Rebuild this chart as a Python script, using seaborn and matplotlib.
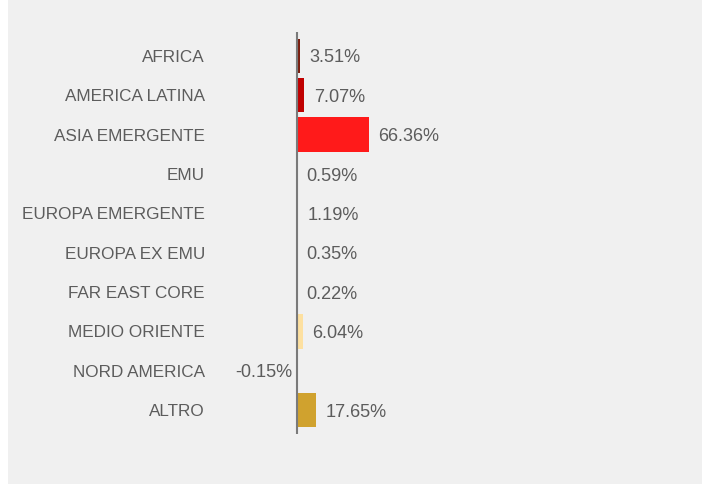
import matplotlib
matplotlib.use("Agg")
import matplotlib.pyplot as plt
from matplotlib.patches import Rectangle
import pandas as pd
import seaborn as sns

# Portfolio weights by geographic area (%)
regions = ["AFRICA", "AMERICA LATINA", "ASIA EMERGENTE", "EMU", "EUROPA EMERGENTE",
           "EUROPA EX EMU", "FAR EAST CORE", "MEDIO ORIENTE", "NORD AMERICA", "ALTRO"]
weights = [3.51, 7.07, 66.36, 0.59, 1.19, 0.35, 0.22, 6.04, -0.15, 17.65]
bar_colors = ["#7b1d0e", "#c00000", "#ff1a1a", "#f26a3a", "#f49a4a",
              "#f7bd6a", "#fbd78c", "#fde0a0", "#e9c25a", "#d0a22e"]

sns.set_theme(style="white")
plt.rcParams["font.family"] = ["Liberation Sans", "DejaVu Sans"]

TEXT = "#5c5c5c"
W, H = 702, 484
fig = plt.figure(figsize=(W / 100, H / 100), dpi=100, facecolor="white")
fig.patches.append(Rectangle((7.5 / W, 0), 1.0, 1.0, transform=fig.transFigure,
                             facecolor="#f0f0f0", edgecolor="none", zorder=-10))

# layout in pixels
zero_px, px_per_unit = 296.5, 1.095
ax_left, ax_right, ax_top, ax_bot = 210, 690, 32, 434
row_px = 39.36
ax = fig.add_axes([ax_left / W, (H - ax_bot) / H,
                   (ax_right - ax_left) / W, (ax_bot - ax_top) / H])
ax.set_facecolor("none")
ax.set_zorder(5)

df = pd.DataFrame({"region": regions, "weight": weights})
sns.barplot(data=df, x="weight", y="region", hue="region",
            palette=dict(zip(regions, bar_colors)), saturation=1,
            width=0.875, linewidth=0, legend=False, ax=ax, zorder=2)

ax.set_xlim(-(zero_px - ax_left) / px_per_unit, (ax_right - zero_px) / px_per_unit)
half = (ax_bot - ax_top) / row_px / 2
ax.set_ylim(4.5 + half, 4.5 - half)

ax.axvline(0, color="#7a7a7a", lw=1.5, zorder=3)
for s in ax.spines.values():
    s.set_visible(False)
ax.set_xlabel("")
ax.set_ylabel("")
ax.set_xticks([])
ax.tick_params(axis="y", length=0, pad=3.6, labelsize=12.3, labelcolor=TEXT)

for i, v in enumerate(weights):
    if v >= 0:
        ax.annotate(f"{v:.2f}%", xy=(v, i), xytext=(6.8, -1.5), textcoords="offset points",
                    ha="left", va="center", fontsize=13.1, color=TEXT)
    else:
        ax.annotate(f"{v:.2f}%", xy=(v, i), xytext=(-2.5, -1.5), textcoords="offset points",
                    ha="right", va="center", fontsize=13.1, color=TEXT)

fig.savefig("out.png", dpi=100, facecolor=fig.get_facecolor())
